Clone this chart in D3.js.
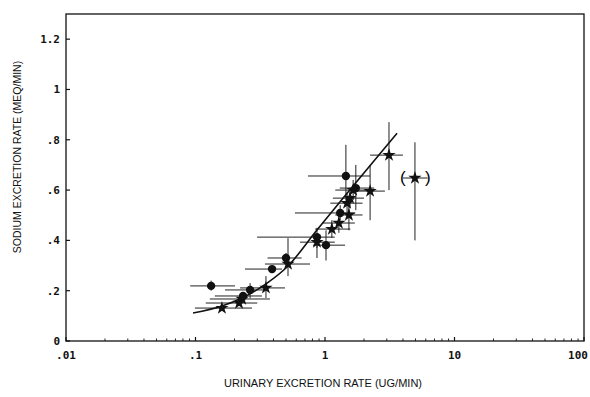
<!DOCTYPE html>
<html>
<head>
<meta charset="utf-8">
<script src="https://cdn.jsdelivr.net/npm/d3@7"></script>
<style>
  body { margin: 0; background: #fff; }
  .tick-label { font-family: "DejaVu Sans Mono", monospace; font-size: 11px; font-weight: bold; fill: #111; }
  .title { font-family: "Liberation Sans", Arial, sans-serif; font-size: 10.5px; fill: #111; }
</style>
</head>
<body>
<div class="main"></div>
<script>
// point values: x (ug/min), y (mEq/min), x error range, y error range, symbol
const ptX    = [0.132, 0.160, 0.229, 0.233, 0.217, 0.264, 0.350, 0.390, 0.50, 0.518, 0.867, 0.867, 1.018, 1.13, 1.28, 1.53, 1.31, 1.48, 1.56, 1.45, 1.73, 1.65, 2.23, 3.12, 4.95];
const ptY    = [0.219, 0.131, 0.167, 0.179, 0.151, 0.203, 0.211, 0.286, 0.330, 0.306, 0.413, 0.393, 0.381, 0.445, 0.469, 0.501, 0.509, 0.548, 0.568, 0.656, 0.608, 0.600, 0.596, 0.739, 0.648];
const xLo    = [0.091, 0.099, 0.129, 0.141, 0.120, 0.169, 0.221, 0.241, 0.36, 0.344, 0.299, 0.641, 0.807, 0.84, 0.95, 1.20, 0.586, 1.10, 1.15, 0.739, 1.30, 1.20, 1.71, 2.23, 4.0];
const xHi    = [0.202, 0.273, 0.376, 0.326, 0.300, 0.363, 0.491, 0.466, 0.66, 0.766, 1.19, 1.19, 1.43, 1.57, 1.70, 1.95, 1.71, 1.95, 2.00, 2.23, 2.40, 2.10, 2.90, 4.0, 6.2];
const yLo    = [0.20, 0.12, 0.15, 0.165, 0.14, 0.17, 0.171, 0.27, 0.31, 0.258, 0.33, 0.37, 0.32, 0.41, 0.43, 0.44, 0.48, 0.51, 0.53, 0.56, 0.52, 0.56, 0.48, 0.60, 0.40];
const yHi    = [0.24, 0.145, 0.18, 0.195, 0.16, 0.23, 0.258, 0.30, 0.35, 0.409, 0.45, 0.42, 0.44, 0.48, 0.51, 0.56, 0.54, 0.59, 0.61, 0.78, 0.70, 0.64, 0.70, 0.87, 0.79];
const ptKind = ["c","s","s","c","s","c","s","c","c","s","c","s","c","s","s","s","c","s","s","c","c","s","s","s","s"];

// fitted curve
const fitX = [0.0957, 0.160, 0.229, 0.357, 0.509, 0.867, 1.53, 3.60];
const fitY = [0.111, 0.139, 0.171, 0.230, 0.294, 0.441, 0.596, 0.826];

const xTicks = [0.01, 0.1, 1, 10, 100];
const xTickLabels = [".01", ".1", "1", "10", "100"];
const yTicks = [0, 0.2, 0.4, 0.6, 0.8, 1, 1.2];
const yTickLabels = ["0", ".2", ".4", ".6", ".8", "1", "1.2"];

const w = 590, h = 397;
const padL = 66, padR = 584, padT = 14, padB = 341;

const svg = d3.select(".main").append("svg").attr("width", w).attr("height", h);

const xScale = d3.scaleLog().domain([0.01, 100]).range([padL, padR]);
const yScale = d3.scaleLinear().domain([0, 1.3]).range([padB, padT]);

// frame
svg.append("rect")
  .attr("x", padL).attr("y", padT)
  .attr("width", padR - padL).attr("height", padB - padT)
  .attr("fill", "none").attr("stroke", "#111").attr("stroke-width", 1.3);

// x minor ticks (inside)
const minor = [];
for (let d = 0.01; d < 100; d *= 10) for (let k = 2; k <= 9; k++) minor.push(d * k);
svg.selectAll(".xminor").data(minor).enter().append("line")
  .attr("x1", d => xScale(d)).attr("x2", d => xScale(d))
  .attr("y1", padB).attr("y2", padB - 2.5)
  .attr("stroke", "#222").attr("stroke-width", 1);
svg.selectAll(".xmajor").data(xTicks).enter().append("line")
  .attr("x1", d => xScale(d)).attr("x2", d => xScale(d))
  .attr("y1", padB).attr("y2", padB - 4)
  .attr("stroke", "#111").attr("stroke-width", 1.2);
svg.selectAll(".xlab").data(xTicks).enter().append("text")
  .attr("class", "tick-label")
  .attr("x", d => Math.min(xScale(d), 578)).attr("y", padB + 18)
  .attr("text-anchor", "middle")
  .text((d, i) => xTickLabels[i]);

// y ticks
svg.selectAll(".ymajor").data(yTicks).enter().append("line")
  .attr("x1", padL).attr("x2", padL + 4)
  .attr("y1", d => yScale(d)).attr("y2", d => yScale(d))
  .attr("stroke", "#111").attr("stroke-width", 1.2);
svg.selectAll(".ylab").data(yTicks).enter().append("text")
  .attr("class", "tick-label")
  .attr("x", padL - 6).attr("y", d => yScale(d) + 4)
  .attr("text-anchor", "end")
  .text((d, i) => yTickLabels[i]);

// titles
svg.append("text").attr("class", "title")
  .attr("x", 323).attr("y", 387)
  .attr("text-anchor", "middle")
  .style("font-size", "11px")
  .text("URINARY EXCRETION RATE (UG/MIN)");
svg.append("text").attr("class", "title")
  .attr("transform", "translate(21,157) rotate(-90)")
  .attr("text-anchor", "middle")
  .text("SODIUM EXCRETION RATE (MEQ/MIN)");

const idx = d3.range(ptX.length);

// error bars
svg.selectAll(".xerr").data(idx).enter().append("line")
  .attr("x1", i => xScale(xLo[i])).attr("x2", i => xScale(xHi[i]))
  .attr("y1", i => yScale(ptY[i])).attr("y2", i => yScale(ptY[i]))
  .attr("stroke", "#222").attr("stroke-width", 1);
svg.selectAll(".yerr").data(idx).enter().append("line")
  .attr("x1", i => xScale(ptX[i])).attr("x2", i => xScale(ptX[i]))
  .attr("y1", i => yScale(yLo[i])).attr("y2", i => yScale(yHi[i]))
  .attr("stroke", "#222").attr("stroke-width", 1);

// fitted curve
const line = d3.line()
  .x((d, i) => xScale(fitX[i]))
  .y((d, i) => yScale(fitY[i]))
  .curve(d3.curveMonotoneX);
svg.append("path")
  .attr("d", line(fitX))
  .attr("fill", "none").attr("stroke", "#111").attr("stroke-width", 1.6);

// markers
const star = d3.symbol().type(d3.symbolStar).size(55);
const dot = d3.symbol().type(d3.symbolCircle).size(55);
svg.selectAll(".pt").data(idx).enter().append("path")
  .attr("transform", i => "translate(" + xScale(ptX[i]) + "," + yScale(ptY[i]) + ")")
  .attr("d", i => ptKind[i] === "c" ? dot() : star())
  .attr("fill", "#111");

// parentheses around the excluded point
const last = ptX.length - 1;
svg.append("text")
  .attr("x", xScale(ptX[last]) - 12).attr("y", yScale(ptY[last]) + 5)
  .attr("text-anchor", "middle")
  .attr("font-family", "Liberation Sans, Arial, sans-serif").attr("font-size", "17px")
  .text("(");
svg.append("text")
  .attr("x", xScale(ptX[last]) + 13).attr("y", yScale(ptY[last]) + 5)
  .attr("text-anchor", "middle")
  .attr("font-family", "Liberation Sans, Arial, sans-serif").attr("font-size", "17px")
  .text(")");
</script>
</body>
</html>
